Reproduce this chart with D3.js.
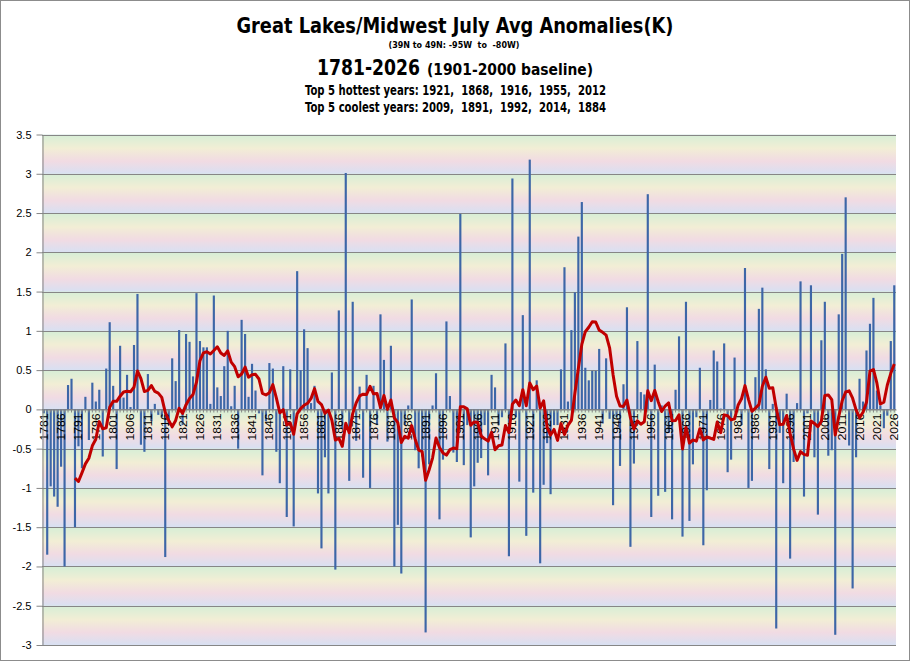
<!DOCTYPE html>
<html>
<head>
<meta charset="utf-8">
<title>Great Lakes/Midwest July Avg Anomalies</title>
<script src="https://d3js.org/d3.v7.min.js"></script>
<style>
  html, body { margin: 0; padding: 0; background: #fff; }
  svg { display: block; }
  .ttl { font-family: "Liberation Sans Narrow", "DejaVu Sans Condensed", "Liberation Sans", sans-serif; font-weight: bold; fill: #000; white-space: pre; }
  .axis text { font-family: "Liberation Sans", Arial, sans-serif; fill: #000; }
</style>
</head>
<body>
<script>
// years on the x axis
var firstYear = 1781, lastYear = 2026;
var years = d3.range(firstYear, lastYear + 1);

// July anomaly (K) for each year, 1781-2026
var anomalies = [
  -0.05,-1.85,-0.98,-1.11,-1.24,-0.73,-2.0,0.31,0.39,-1.5,     // 1781-1790
  -0.47,-0.75,0.16,-0.39,0.34,0.1,0.25,-0.6,0.52,1.11,         // 1791-1800
  0.3,-0.76,0.81,0.15,0.44,0.03,0.82,1.47,-0.45,-0.54,         // 1801-1810
  0.45,-0.15,0.07,-0.07,-0.1,-1.88,-0.2,0.65,0.36,1.01,        // 1811-1820
  -0.2,0.96,0.86,0.42,1.48,0.87,0.79,0.79,0.07,1.45,           // 1821-1830
  0.28,0.17,0.55,1.0,0.04,0.3,-0.5,1.14,0.96,0.16,             // 1831-1840
  0.58,0.24,-0.05,-0.84,-0.15,0.59,0.52,-0.54,-0.94,0.55,      // 1841-1850
  -1.37,0.51,-1.49,1.76,0.5,1.02,0.78,0.08,0.3,-1.07,          // 1851-1860
  -1.77,-0.61,-1.07,0.47,-2.04,1.26,-0.25,3.01,-0.91,1.37,     // 1861-1870
  -0.4,0.29,-0.87,0.44,-1.0,0.3,-0.2,1.21,0.63,-0.41,          // 1871-1880
  0.81,-2.0,-1.47,-2.09,-0.2,0.05,1.4,-0.52,-0.75,-0.6,        // 1881-1890
  -2.84,-0.7,0.05,0.46,-1.4,-0.64,1.12,0.17,-0.55,-0.67,       // 1891-1900
  2.49,-0.71,-0.2,-1.63,-0.98,-0.68,-0.62,-0.2,-0.84,0.44,     // 1901-1910
  0.28,-0.2,-0.1,0.84,-1.87,2.94,-0.1,-0.92,1.2,-1.61,         // 1911-1920
  3.18,-1.06,0.37,-1.96,-0.96,-0.43,-1.08,-0.2,-0.2,0.51,      // 1921-1930
  1.81,0.1,1.01,1.49,2.2,2.64,0.53,0.37,0.49,0.49,             // 1931-1940
  0.77,-0.18,0.65,-0.12,-1.22,-0.1,-0.72,0.32,1.3,-1.75,       // 1941-1950
  -0.69,0.87,0.22,0.19,2.74,-1.37,0.57,-1.1,0.05,-1.05,        // 1951-1960
  -0.3,-1.4,0.25,0.93,-1.62,1.37,-1.42,-0.7,-0.1,0.53,         // 1961-1970
  -1.73,-1.03,0.12,0.75,0.61,0.01,0.84,-0.8,-0.64,0.66,        // 1971-1980
  0.0,-0.2,1.8,-1.0,-0.91,0.41,1.28,1.55,0.51,-0.76,           // 1981-1990
  0.07,-2.79,-0.3,-0.94,0.2,-1.9,-0.67,0.08,1.63,-1.11,        // 1991-2000
  -0.05,1.58,-0.61,-1.34,0.88,1.37,-0.59,-0.52,-2.87,1.21,     // 2001-2010
  1.98,2.7,-0.46,-2.28,-0.61,0.39,0.1,0.75,1.09,1.42,          // 2011-2020
  0.24,0.05,-0.24,-0.08,0.87,1.58                              // 2021-2026
];

var yTicks = d3.range(-3, 3.51, 0.5);
var hottest = [1921, 1868, 1916, 1955, 2012];
var coolest = [2009, 1891, 1992, 2014, 1884];
var maWindow = 10; // trailing moving average, as in the original trendline

var w = 911, h = 662;
var plotL = 42, plotR = 896, plotT = 134.5, plotB = 645;

var svg = d3.select("body").append("svg")
  .attr("width", w)
  .attr("height", h);

// outer chart border
svg.append("rect")
  .attr("x", 0.5).attr("y", 0.5)
  .attr("width", 909).attr("height", 660)
  .attr("fill", "#fff")
  .attr("stroke", "#8c8c8c");

var x = d3.scaleBand()
  .domain(years)
  .range([plotL, plotR])
  .paddingInner(0.38)
  .paddingOuter(0.19);

var y = d3.scaleLinear()
  .domain([-3, 3.5])
  .range([plotB, plotT]);

// pastel band background, one gradient per grid band
var defs = svg.append("defs");
var grad = defs.append("linearGradient")
  .attr("id", "bandGrad")
  .attr("x1", 0).attr("y1", 0).attr("x2", 0).attr("y2", 1);
grad.append("stop").attr("offset", "0%").attr("stop-color", "#d6eed6");
grad.append("stop").attr("offset", "35%").attr("stop-color", "#f2eed5");
grad.append("stop").attr("offset", "68%").attr("stop-color", "#f1dbe3");
grad.append("stop").attr("offset", "100%").attr("stop-color", "#d8e0f2");

var bandH = y(3) - y(3.5);
var pat = defs.append("pattern")
  .attr("id", "bands")
  .attr("patternUnits", "userSpaceOnUse")
  .attr("x", plotL).attr("y", plotT)
  .attr("width", plotR - plotL).attr("height", bandH);
pat.append("rect")
  .attr("width", plotR - plotL).attr("height", bandH)
  .attr("fill", "url(#bandGrad)");

svg.append("rect")
  .attr("x", plotL).attr("y", plotT)
  .attr("width", plotR - plotL).attr("height", plotB - plotT)
  .attr("fill", "url(#bands)");

// gridlines
svg.append("g")
  .selectAll("line")
  .data(yTicks)
  .enter()
  .append("line")
  .attr("x1", plotL).attr("x2", plotR)
  .attr("y1", function (d) { return Math.round(y(d)) + 0.5; })
  .attr("y2", function (d) { return Math.round(y(d)) + 0.5; })
  .attr("stroke", "#868686")
  .attr("stroke-width", 1);

// bars
svg.append("g")
  .selectAll("rect")
  .data(anomalies)
  .enter()
  .append("rect")
  .attr("x", function (d, i) { return x(years[i]); })
  .attr("width", x.bandwidth())
  .attr("y", function (d) { return d >= 0 ? y(d) : y(0); })
  .attr("height", function (d) { return Math.abs(y(d) - y(0)); })
  .attr("fill", "#3d66a7");

// x axis along zero line
var axisX = d3.axisBottom(x)
  .tickValues(years)
  .tickSize(3)
  .tickSizeOuter(0)
  .tickFormat(function (d) { return (d - firstYear) % 5 === 0 ? d : ""; });

var gx = svg.append("g")
  .attr("class", "axis")
  .attr("transform", "translate(0," + (Math.round(y(0)) + 0.5) + ")")
  .call(axisX);
gx.select(".domain").attr("stroke", "#868686");
gx.selectAll(".tick line").attr("stroke", "#868686");
gx.selectAll(".tick text")
  .filter(function () { return this.textContent === ""; })
  .remove();
gx.selectAll(".tick text")
  .attr("transform", "rotate(-90)")
  .attr("text-anchor", "end")
  .attr("x", -4)
  .attr("y", 0)
  .attr("dy", "0.36em")
  .style("font-size", "11px")
  .attr("textLength", 27)
  .attr("lengthAdjust", "spacingAndGlyphs");

// y axis
var axisY = d3.axisLeft(y)
  .tickValues(yTicks)
  .tickSize(6)
  .tickSizeOuter(0)
  .tickFormat(function (d) { return String(d); });

var gy = svg.append("g")
  .attr("class", "axis")
  .attr("transform", "translate(" + (plotL + 0.5) + ",0)")
  .call(axisY);
gy.select(".domain").attr("stroke", "#868686");
gy.selectAll(".tick line").attr("stroke", "#868686");
gy.selectAll("text")
  .attr("x", -11)
  .style("font-size", "11px");

// moving average
var ma = [];
anomalies.forEach(function (v, i) {
  if (i >= maWindow - 1) {
    ma.push({ year: years[i], value: d3.mean(anomalies.slice(i - maWindow + 1, i + 1)) });
  }
});

var line = d3.line()
  .x(function (d) { return x(d.year) + x.bandwidth() / 2; })
  .y(function (d) { return y(d.value); });

svg.append("path")
  .datum(ma)
  .attr("d", line)
  .attr("fill", "none")
  .attr("stroke", "#c00000")
  .attr("stroke-width", 3)
  .attr("stroke-linejoin", "round");

// titles
function title(txt, cx, by, size, len) {
  svg.append("text")
    .attr("class", "ttl")
    .attr("x", cx).attr("y", by)
    .attr("text-anchor", "middle")
    .style("font-size", size + "px")
    .attr("textLength", len)
    .attr("lengthAdjust", "spacingAndGlyphs")
    .text(txt);
}
title("Great Lakes/Midwest July Avg Anomalies(K)", 455, 33, 22, 437);
title("(39N to 49N: -95W  to  -80W)", 454, 48, 8.5, 131);
title(firstYear + "-" + lastYear, 368.5, 75, 21, 103);
title("(1901-2000 baseline)", 510, 75, 16, 166);
title("Top 5 hottest years: " + hottest.join(",  "), 455.5, 95, 14, 301);
title("Top 5 coolest years: " + coolest.join(",  "), 455.5, 112, 14, 301);
</script>
</body>
</html>
